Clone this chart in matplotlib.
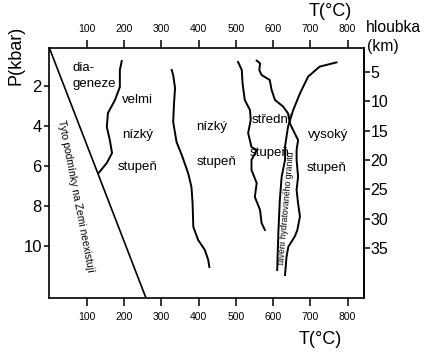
import matplotlib.pyplot as plt

# region boundaries as (T in degC, P in kbar)
diag_T = [194, 189, 189, 176, 157, 154, 162, 168, 154, 132]
diag_P = [0.75, 1.2, 2.05, 2.7, 3.35, 4.05, 4.7, 5.35, 5.85, 6.35]

low_T = [328, 332, 337, 334, 332, 341, 355, 372, 381, 384, 386, 399, 417, 426, 429]
low_P = [1.2, 1.45, 2.1, 2.95, 3.8, 4.8, 5.45, 6.35, 7.05, 7.85, 9.05, 9.7, 10.2, 10.7, 11.05]

mid_T = [506, 516, 518, 524, 538, 540, 533, 542, 556, 542, 542, 556, 551, 565, 569, 578]
mid_P = [0.8, 1.2, 1.85, 2.7, 3.2, 3.7, 4.35, 5.05, 5.2, 5.7, 6.2, 6.85, 7.55, 8.2, 8.85, 9.2]

high_T = [556, 565, 563, 569, 591, 596, 605, 627, 640, 645, 658, 667, 663, 663, 667,
          663, 667, 672, 665, 658, 641, 636, 632]
high_P = [0.73, 0.87, 1.2, 1.45, 1.7, 2.2, 2.7, 3.03, 3.37, 3.87, 4.37, 4.7, 5.2, 5.7, 6.53,
          7.2, 7.87, 8.53, 9.2, 9.53, 10.03, 10.53, 11.45]

granite_T = [770, 725, 694, 672, 654, 640, 632, 632, 623, 618, 614, 611]
granite_P = [0.82, 1.03, 1.53, 2.37, 3.2, 4.03, 5.03, 5.7, 6.53, 7.7, 9.37, 11.2]

limit_T = [0, 259]
limit_P = [0.1, 12.6]

T_ticks = [100, 200, 300, 400, 500, 600, 700, 800]
P_ticks = [2, 4, 6, 8, 10]
depth_ticks = [5, 10, 15, 20, 25, 30, 35]

# grade labels: (text, T, P)
labels = [("velmi", 237, 2.7), ("nízký", 237, 4.45), ("stupeň", 237, 6.05),
          ("nízký", 435, 4.03), ("stupeň", 449, 5.8),
          ("střední", 596, 3.7), ("stupeň", 591, 5.37),
          ("vysoký", 748, 4.45), ("stupeň", 743, 6.1)]

plt.rcParams['font.family'] = ['Liberation Sans', 'DejaVu Sans']

fig = plt.figure(figsize=(4.24, 3.55), dpi=100)
ax = fig.add_axes([0.1165, 0.1606, 0.7413, 0.7042])

lw = 1.4
ax.plot(limit_T, limit_P, color='black', lw=1.2)
ax.plot(diag_T, diag_P, color='black', lw=lw)
ax.plot(low_T, low_P, color='black', lw=lw)
ax.plot(mid_T, mid_P, color='black', lw=lw)
ax.plot(high_T, high_P, color='black', lw=lw)
ax.plot(granite_T, granite_P, color='black', lw=lw)

ax.set_xlim(0, 843)
ax.set_ylim(12.6, 0.1)

for txt, t, p in labels:
    ax.text(t, p, txt, ha='center', va='center', fontsize=9.5)
ax.text(62, 1.1, "dia-", ha='left', va='center', fontsize=9.5)
ax.text(62, 1.9, "geneze", ha='left', va='center', fontsize=9.5)

ax.text(71, 7.5, "Tyto podmínky na Zemi neexistují", rotation=-79,
        ha='center', va='center', fontsize=7.5, rotation_mode='anchor')
ax.text(636, 8.1, "tavení hydratovaného granitu", rotation=85,
        ha='center', va='center', fontsize=6.3, rotation_mode='anchor')

for s in ax.spines.values():
    s.set_linewidth(1.2)

ax.set_xticks(T_ticks)
ax.set_xticklabels([str(t) for t in T_ticks])
ax.tick_params(axis='x', top=True, labeltop=True, direction='out', length=6,
               width=1.1, labelsize=7.5, pad=4)
ax.set_yticks(P_ticks)
ax.set_yticklabels([str(p) for p in P_ticks])
ax.tick_params(axis='y', direction='out', length=3.5, width=1.1, labelsize=12, pad=2)

# depth scale on the right side
sec = ax.secondary_yaxis('right', functions=(lambda p: 3.4 * p + 0.63,
                                             lambda d: (d - 0.63) / 3.4))
sec.set_yticks(depth_ticks)
sec.set_yticklabels([str(d) for d in depth_ticks])
sec.tick_params(direction='out', length=4, width=1.1, labelsize=11.5, pad=1)
sec.spines['right'].set_linewidth(1.2)

fig.text(16 / 424, 1 - 55 / 355, "P(kbar)", rotation=90, ha='center', va='center', fontsize=13)
fig.text(330 / 424, 1 - 11 / 355, "T(°C)", ha='center', va='center', fontsize=13)
fig.text(320 / 424, 1 - 340 / 355, "T(°C)", ha='center', va='center', fontsize=13)
fig.text(366 / 424, 1 - 28 / 355, "hloubka", ha='left', va='center', fontsize=11.3)
fig.text(367 / 424, 1 - 46 / 355, "(km)", ha='left', va='center', fontsize=11.3)

fig.savefig('out.png', dpi=100)
